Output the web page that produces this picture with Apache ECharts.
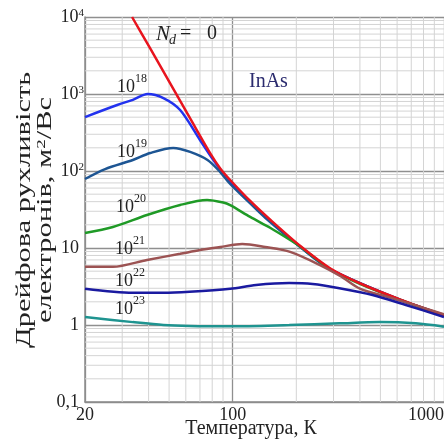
<!DOCTYPE html>
<html>
<head>
<meta charset="utf-8">
<script src="https://cdn.jsdelivr.net/npm/echarts@6/dist/echarts.min.js"></script>
<style>
  html, body { margin: 0; padding: 0; background: #fff; }
  #chart { width: 444px; height: 441px; }
</style>
</head>
<body>
<div id="chart"></div>
<script>
// температура (К) і рухливість (м2/Вс)
const tN0 = [33.4, 40.7, 50.6, 62.9, 78.3, 87.3, 97.3, 121, 151, 209, 290, 402, 622, 1000];
const muN0 = [10000, 3900, 1370, 481, 169, 108, 76.4, 40.8, 23.1, 10.6, 5.42, 3.46, 2.14, 1.35];

const t18 = [20, 28.4, 33.7, 39.6, 47, 56.4, 70, 81, 97.3, 121, 151, 209, 290, 622, 1000];
const mu18 = [502, 720, 840, 1000, 887, 620, 253, 139, 72, 39, 22.4, 10.3, 5.3, 2.12, 1.34];

const t19 = [20, 24.9, 33.7, 40.7, 52.3, 62.9, 76, 87.3, 97.3, 121, 143, 209, 290, 622, 1000];
const mu19 = [78.7, 106, 139, 171, 199, 177, 139, 97, 67.8, 37.9, 24.5, 10.3, 5.3, 2.12, 1.34];

const t20 = [20, 27.1, 39.3, 56.4, 75.6, 90.2, 97.3, 121, 151, 187, 209, 290, 402, 622, 1000];
const mu20 = [15.7, 18.7, 26.8, 36.2, 42, 39, 36, 25.3, 18.2, 12.7, 10.4, 5.3, 3.4, 2.12, 1.34];

const t21 = [20, 27.1, 39.3, 56.4, 70, 87.3, 111, 142.6, 187, 259, 324, 402, 553, 1000];
const mu21 = [5.7, 5.7, 7.0, 8.4, 9.4, 10.3, 11.3, 10.3, 8.9, 6.0, 4.3, 2.94, 2.28, 1.38];

const t22 = [20, 33.7, 47, 62.5, 97.3, 129, 185, 239, 320, 459, 660, 1000];
const mu22 = [2.96, 2.62, 2.62, 2.7, 2.95, 3.3, 3.5, 3.4, 3.0, 2.45, 1.82, 1.27];

const t23 = [20, 33.7, 47, 62.5, 97.3, 185, 320, 496, 735, 1000];
const mu23 = [1.27, 1.09, 1.0, 0.97, 0.96, 1.0, 1.05, 1.09, 1.05, 0.95];

// допоміжна сітка
const xMinor = [30, 40, 50, 60, 70, 80, 90, 200, 300, 400, 500, 600, 700, 800, 900];
const yMinor = [0.2, 0.3, 0.4, 0.5, 0.6, 0.7, 0.8, 0.9,
  2, 3, 4, 5, 6, 7, 8, 9,
  20, 30, 40, 50, 60, 70, 80, 90,
  200, 300, 400, 500, 600, 700, 800, 900,
  2000, 3000, 4000, 5000, 6000, 7000, 8000, 9000];

const xMin = 20, xMax = 1000, yMin = 0.1, yMax = 10000;
const serif = '"Liberation Serif", "DejaVu Serif", serif';

const chart = echarts.init(document.getElementById('chart'));

function curve(ts, mus, color, z) {
  return {
    type: 'line',
    data: ts.map((t, i) => [t, mus[i]]),
    smooth: 0.3,
    symbol: 'none',
    silent: true,
    z: z,
    lineStyle: { color: color, width: 2.5 }
  };
}

let series = [];
// тонкі лінії сітки
xMinor.forEach(v => series.push({
  type: 'line', data: [[v, yMin], [v, yMax]], symbol: 'none', silent: true, z: 1,
  lineStyle: { color: '#d4d4d4', width: 1 }
}));
yMinor.forEach(v => series.push({
  type: 'line', data: [[xMin, v], [xMax, v]], symbol: 'none', silent: true, z: 1,
  lineStyle: { color: '#d4d4d4', width: 1 }
}));

series.push(curve(t18, mu18, '#2232ee', 3));
series.push(curve(t19, mu19, '#1d5593', 3));
series.push(curve(t20, mu20, '#1f9a26', 3));
series.push(curve(tN0, muN0, '#e8141e', 4));
series.push(curve(t21, mu21, '#9c5353', 5));
series.push(curve(t22, mu22, '#1a1aa0', 5));
series.push(curve(t23, mu23, '#1f9490', 5));

function txt(x, y, text, size, extra) {
  return {
    type: 'text', x: x, y: y, silent: true, z: 10,
    style: Object.assign({ text: text, fontFamily: serif, fontSize: size, fill: '#222',
      align: 'left', verticalAlign: 'middle' }, extra || {})
  };
}

// підписи кривих 10^n
const labelPos = [[117, 87.5, '18'], [117, 152.5, '19'], [116, 207.5, '20'],
  [115, 249.5, '21'], [115, 281.5, '22'], [115, 309.5, '23']];
let graphics = [];
labelPos.forEach(p => {
  graphics.push(txt(p[0], p[1], '10', 18));
  graphics.push(txt(p[0] + 18, p[1] - 8.5, p[2], 12));
});
graphics.push(txt(156, 34, 'N', 21, { fontStyle: 'italic' }));
graphics.push(txt(169, 40, 'd', 14, { fontStyle: 'italic' }));
graphics.push(txt(180, 34, '=', 20));
graphics.push(txt(207, 34, '0', 20));
graphics.push(txt(249, 82, 'InAs', 20, { fill: '#2b2b6e' }));

// назви осей
graphics.push({
  type: 'text', x: 35, y: 210, rotation: Math.PI / 2, scaleX: 1.45, silent: true,
  style: {
    text: 'Дрейфова рухливість\nелектронів, м{s|2}/Вс',
    fontFamily: serif, fontSize: 21, lineHeight: 21, fill: '#222',
    align: 'center', verticalAlign: 'middle',
    rich: { s: { fontFamily: serif, fontSize: 13, lineHeight: 21, verticalAlign: 'top', fill: '#222' } }
  }
});
graphics.push({
  type: 'text', x: 251, y: 429, silent: true,
  style: { text: 'Температура, К', fontFamily: serif, fontSize: 20, fill: '#222',
    align: 'center', verticalAlign: 'middle' }
});

chart.setOption({
  animation: false,
  grid: { left: 85, right: 0, top: 17, bottom: 39, outerBoundsMode: 'none' },
  xAxis: {
    type: 'log', logBase: 10, min: xMin, max: xMax,
    axisLine: { show: true, lineStyle: { color: '#8c8c8c', width: 1.5 } },
    axisTick: { show: false },
    axisLabel: {
      margin: 4, color: '#222', fontFamily: serif, fontSize: 18,
      alignMaxLabel: 'right',
      formatter: v => String(Math.round(v))
    },
    splitLine: { show: true, lineStyle: { color: '#8f8f8f', width: 1.3 } }
  },
  yAxis: {
    type: 'log', logBase: 10, min: yMin, max: yMax,
    axisLine: { show: true, lineStyle: { color: '#8c8c8c', width: 1.5 } },
    axisTick: { show: false },
    axisLabel: {
      margin: 1, color: '#222',
      formatter: v => {
        const p = Math.round(Math.log10(v));
        if (p >= 2) return '{b|10}{s|' + p + '}';
        if (p === 1) return '{n|10}';
        if (p === 0) return '{n|1}';
        return '{n|0,1}';
      },
      rich: {
        b: { fontFamily: serif, fontSize: 18, lineHeight: 18, color: '#222' },
        n: { fontFamily: serif, fontSize: 18, lineHeight: 18, color: '#222', padding: [0, 5, 0, 0] },
        s: { fontFamily: serif, fontSize: 11, verticalAlign: 'top', color: '#222' }
      }
    },
    splitLine: { show: true, lineStyle: { color: '#8f8f8f', width: 1.3 } }
  },
  series: series,
  graphic: graphics
});
</script>
</body>
</html>
